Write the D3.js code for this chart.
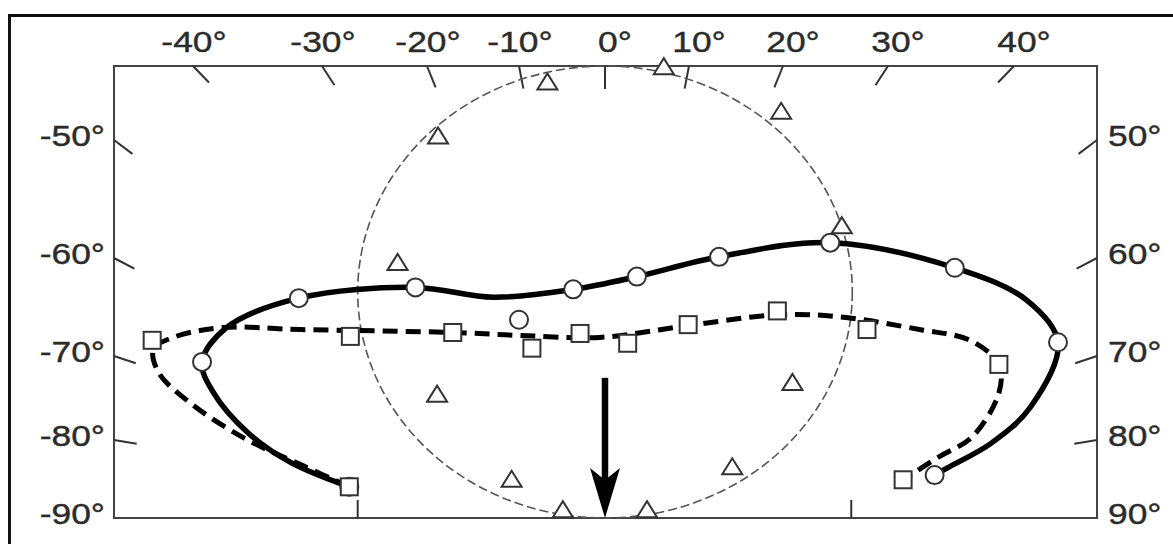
<!DOCTYPE html>
<html>
<head>
<meta charset="utf-8">
<script src="https://cdn.jsdelivr.net/npm/d3@7"></script>
<style>
body { margin: 0; background: #fff; }
text { font-family: "Liberation Sans", Arial, sans-serif; fill: #2b2b2b; stroke: #2b2b2b; stroke-width: 0.4; font-size: 30px; }
</style>
</head>
<body>
<div id="chart"></div>
<script>
// graticule ticks (degrees)
var lonTicks = [-40, -30, -20, -10, 0, 10, 20, 30, 40];
var latTicks = [-50, -60, -70, -80, -90];
var bottomTicks = [-26.6, 26.5];

// break points of the (non linear) graticule along the frame
var lonBreaks = [-46, -40, -30, -20, -10, 0, 10, 20, 30, 40, 46.6];
var latBreaks = [-43.7, -50, -60, -70, -80, -90];

// measured points [lon, lat]
var circles = [[-27.4, -86.0], [-39.3, -70.7], [-31.8, -64.1], [-21.1, -63.0], [-3.7, -63.2],
  [3.8, -61.9], [13.2, -59.9], [24.5, -58.7], [35.3, -61.0], [43.5, -68.6], [33.7, -84.5],
  [-10.0, -66.3]];
var squares = [[-27.4, -86.0], [-43.1, -68.4], [-27.3, -68.0], [-17.2, -67.6], [-8.5, -69.2],
  [-2.9, -67.7], [2.7, -68.7], [9.9, -66.8], [19.4, -65.4], [28.0, -67.3], [38.8, -71.0],
  [31.2, -85.1]];
var triangles = [[7.0, -43.8], [-6.7, -45.1], [19.8, -47.6], [-18.8, -49.7], [25.6, -57.3],
  [-22.8, -60.5], [-18.9, -74.6], [20.9, -73.2], [-10.8, -85.1], [14.6, -83.5],
  [-4.9, -89.0], [5.0, -89.0]];

// fitted curves [lon, lat]
var solidFit = [[-27.4, -86.0], [-32.4, -82.9], [-35.7, -79.2], [-38.4, -74.4], [-39.3, -70.7],
  [-37.4, -67.1], [-31.8, -64.1], [-21.1, -63.0], [-12.8, -64.0], [-3.7, -63.2], [3.8, -61.9],
  [13.2, -59.9], [24.5, -58.7], [35.3, -61.0], [41.0, -64.3], [43.5, -68.6], [41.3, -76.1],
  [38.2, -80.4], [34.8, -83.5], [33.7, -84.5]];
var dashedFit = [[-27.4, -86.0], [-31.2, -83.5], [-36.0, -79.8], [-40.2, -75.6], [-42.6, -72.0],
  [-43.0, -69.3], [-41.5, -68.1], [-37.7, -67.1], [-31.7, -67.3], [-17.2, -67.6], [-9.9, -67.9],
  [-0.6, -68.1], [9.9, -66.9], [19.4, -65.8], [25.4, -66.0], [32.5, -67.3], [36.5, -68.4],
  [38.8, -71.0], [38.8, -74.4], [36.7, -79.6], [34.0, -82.2], [31.2, -85.1]];

// dashed reference ring and arrow
var ringLon = [-26.6, 26.6];
var ringLat = [-43.7, -90];
var arrowLon = 0;
var arrowLat = [-72.6, -90];

var W = 1173, H = 544;
var fr = {left: 114, right: 1097, top: 66, bottom: 518};

var x = d3.scaleLinear().domain(lonBreaks)
  .range([114, 193, 322, 427, 519, 605, 689, 783, 888, 1014, 1097]);
var y = d3.scaleLinear().domain(latBreaks)
  .range([66, 140, 258, 356, 440, 518]);
var tilt = d3.scaleLinear().domain([0, 40]).range([0, 44]);     // top tick tilt
var slope = d3.scaleLinear().domain([-90, -50]).range([0, 37]); // side tick slope
var rad = Math.PI / 180;

var svg = d3.select("#chart").append("svg")
  .attr("width", W).attr("height", H);

// outer border
svg.append("rect")
  .attr("x", 9.5).attr("y", 15.5)
  .attr("width", W + 40).attr("height", H + 40)
  .attr("fill", "none").attr("stroke", "#111").attr("stroke-width", 3);

// frame
svg.append("rect")
  .attr("x", fr.left).attr("y", fr.top)
  .attr("width", fr.right - fr.left).attr("height", fr.bottom - fr.top)
  .attr("fill", "none").attr("stroke", "#444").attr("stroke-width", 2);

var tickLen = 23;
svg.selectAll(".lontick").data(lonTicks).enter().append("line")
  .attr("x1", function(d) { return x(d); })
  .attr("y1", fr.top)
  .attr("x2", function(d) { return x(d) - Math.sin(tilt(d) * rad) * tickLen; })
  .attr("y2", function(d) { return fr.top + Math.cos(tilt(d) * rad) * tickLen; })
  .attr("stroke", "#333").attr("stroke-width", 2);

svg.selectAll(".lonlabel").data(lonTicks).enter().append("text")
  .attr("transform", function(d) {
    return "translate(" + (x(d) + (d < 0 ? 1 : 10)) + ",52) scale(1.18,1)";
  })
  .attr("text-anchor", "middle")
  .text(function(d) { return d + "°"; });

// side ticks
svg.selectAll(".ltick").data(latTicks.slice(0, 4)).enter().append("line")
  .attr("x1", fr.left).attr("y1", function(d) { return y(d); })
  .attr("x2", function(d) { return fr.left + Math.cos(slope(d) * rad) * tickLen; })
  .attr("y2", function(d) { return y(d) + Math.sin(slope(d) * rad) * tickLen; })
  .attr("stroke", "#333").attr("stroke-width", 2);
svg.selectAll(".rtick").data(latTicks.slice(0, 4)).enter().append("line")
  .attr("x1", fr.right).attr("y1", function(d) { return y(d); })
  .attr("x2", function(d) { return fr.right - Math.cos(slope(d) * rad) * tickLen; })
  .attr("y2", function(d) { return y(d) + Math.sin(slope(d) * rad) * tickLen; })
  .attr("stroke", "#333").attr("stroke-width", 2);

svg.selectAll(".llabel").data(latTicks).enter().append("text")
  .attr("transform", function(d) { return "translate(105," + (y(d) - 5) + ") scale(1.18,1)"; })
  .attr("text-anchor", "end").attr("dominant-baseline", "central")
  .text(function(d) { return d + "°"; });
svg.selectAll(".rlabel").data(latTicks).enter().append("text")
  .attr("transform", function(d) { return "translate(1108," + (y(d) - 5) + ") scale(1.18,1)"; })
  .attr("text-anchor", "start").attr("dominant-baseline", "central")
  .text(function(d) { return (-d) + "°"; });

// bottom ticks
svg.selectAll(".btick").data(bottomTicks).enter().append("line")
  .attr("x1", function(d) { return x(d); }).attr("x2", function(d) { return x(d); })
  .attr("y1", fr.bottom).attr("y2", fr.bottom - 18)
  .attr("stroke", "#333").attr("stroke-width", 2);

// dashed ring
svg.append("ellipse")
  .attr("cx", (x(ringLon[0]) + x(ringLon[1])) / 2)
  .attr("cy", (y(ringLat[0]) + y(ringLat[1])) / 2)
  .attr("rx", (x(ringLon[1]) - x(ringLon[0])) / 2)
  .attr("ry", (y(ringLat[1]) - y(ringLat[0])) / 2)
  .attr("fill", "none").attr("stroke", "#555").attr("stroke-width", 1.6)
  .attr("stroke-dasharray", "9,4");

var line = d3.line()
  .x(function(d) { return x(d[0]); })
  .y(function(d) { return y(d[1]); })
  .curve(d3.curveCatmullRom.alpha(0.5));

svg.append("path").attr("d", line(solidFit))
  .attr("fill", "none").attr("stroke", "#000").attr("stroke-width", 5.5);
svg.append("path").attr("d", line(dashedFit))
  .attr("fill", "none").attr("stroke", "#000").attr("stroke-width", 5)
  .attr("stroke-dasharray", "15,8");

// markers
svg.selectAll(".tri").data(triangles).enter().append("path")
  .attr("d", function(d) {
    var cx = x(d[0]), cy = y(d[1]);
    return "M" + (cx - 10) + "," + (cy + 7) + "L" + cx + "," + (cy - 9) + "L" + (cx + 10) + "," + (cy + 7) + "Z";
  })
  .attr("fill", "#fff").attr("stroke", "#333").attr("stroke-width", 2);

svg.selectAll(".circ").data(circles).enter().append("circle")
  .attr("cx", function(d) { return x(d[0]); })
  .attr("cy", function(d) { return y(d[1]); })
  .attr("r", 9)
  .attr("fill", "#fff").attr("stroke", "#333").attr("stroke-width", 2);

svg.selectAll(".sq").data(squares).enter().append("rect")
  .attr("x", function(d) { return x(d[0]) - 8.5; })
  .attr("y", function(d) { return y(d[1]) - 8.5; })
  .attr("width", 17).attr("height", 17)
  .attr("fill", "#fff").attr("stroke", "#333").attr("stroke-width", 2);

// arrow
var ax = x(arrowLon), ay0 = y(arrowLat[0]), ay1 = y(arrowLat[1]);
svg.append("line")
  .attr("x1", ax).attr("x2", ax).attr("y1", ay0).attr("y2", ay1 - 30)
  .attr("stroke", "#000").attr("stroke-width", 6.5);
svg.append("path")
  .attr("d", "M" + (ax - 15) + "," + (ay1 - 50) + "L" + ax + "," + (ay1 - 38) +
    "L" + (ax + 15) + "," + (ay1 - 50) + "L" + ax + "," + ay1 + "Z")
  .attr("fill", "#000");
</script>
</body>
</html>
